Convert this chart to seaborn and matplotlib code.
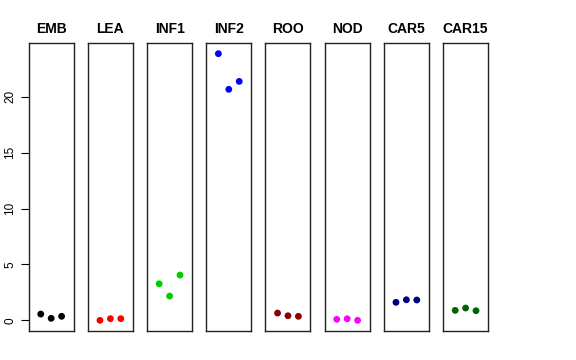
import pandas as pd
import numpy as np
import matplotlib.pyplot as plt
import seaborn as sns

# tissues and their three replicate values
tissues = ['EMB', 'LEA', 'INF1', 'INF2', 'ROO', 'NOD', 'CAR5', 'CAR15']
rep1 = [0.56, 0.00, 3.27, 23.85, 0.65, 0.09, 1.61, 0.89]
rep2 = [0.18, 0.15, 2.17, 20.66, 0.41, 0.14, 1.84, 1.10]
rep3 = [0.36, 0.15, 4.05, 21.37, 0.36, 0.00, 1.82, 0.86]
colors = ['black', 'red', '#00CD00', 'blue', '#8B0000', '#FF00FF', '#000080', '#006400']
yticks = [0, 5, 10, 15, 20]

df = pd.DataFrame({
    'tissue': np.repeat(tissues, 3),
    'rep': np.tile([1, 2, 3], len(tissues)),
    'value': np.ravel(np.column_stack([rep1, rep2, rep3])),
})

sns.set_style('white')
plt.rcParams['font.family'] = ['Liberation Sans', 'DejaVu Sans']
plt.rcParams['text.color'] = 'black'
plt.rcParams['ytick.color'] = 'black'
plt.rcParams['ytick.labelcolor'] = 'black'

fig = plt.figure(figsize=(5.76, 3.6), dpi=100)

ymin, ymax = df['value'].min(), df['value'].max()
pad = (ymax - ymin) * 0.04

for i, (t, c) in enumerate(zip(tissues, colors)):
    ax = fig.add_axes([0.0498 + i * 59.2 / 576, 29 / 360, 45 / 576, 288 / 360])
    sub = df[df['tissue'] == t]
    sns.scatterplot(data=sub, x='rep', y='value', color=c, s=24,
                    edgecolor='none', ax=ax, legend=False)
    ax.set_xlim(-0.16, 4.16)
    ax.set_ylim(ymin - pad, ymax + pad)
    ax.set_xticks([])
    ax.set_xlabel('')
    ax.set_ylabel('')
    ax.set_title(t, fontsize=10, fontweight='bold', color='black', pad=7)
    for s in ax.spines.values():
        s.set_color('#222222')
        s.set_linewidth(1.0)
    if i == 0:
        ax.set_yticks(yticks)
        ax.set_yticklabels([str(v) for v in yticks], rotation=90, va='center', fontsize=8.5)
        ax.tick_params(axis='y', left=True, length=6, width=0.8, pad=3, color='black')
    else:
        ax.set_yticks([])

fig.savefig('out.png', dpi=100)
